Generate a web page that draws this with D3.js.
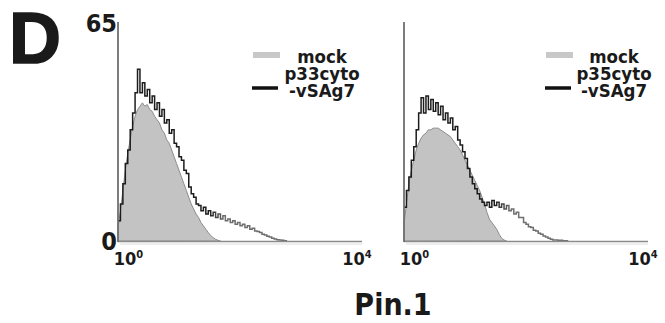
<!DOCTYPE html>
<html>
<head>
<meta charset="utf-8">
<script src="https://cdn.jsdelivr.net/npm/d3@7/dist/d3.min.js"></script>
<style>
  html, body { margin: 0; padding: 0; background: #fff; }
  svg { display: block; }
  text { font-family: "DejaVu Sans Condensed", "DejaVu Sans", sans-serif; font-weight: bold; fill: #1a1a1a; }
</style>
</head>
<body>
<svg id="chart" width="665" height="323"></svg>
<script>
// Flow cytometry histograms, Pin.1 staining, log channels 10^0..10^4.
// Each array holds event counts per channel bin, bins 0.04 decades wide.
const binDecades = 0.04;

const mockLeft = [4, 9, 15, 21, 26, 30, 34, 37, 39, 40, 41, 40, 40.5, 39, 38.5, 37, 36, 35, 33, 32,
  30, 29, 27, 25, 23, 21, 19, 17, 15, 13, 11, 9.5, 8, 7, 5.5, 4.5, 3.5, 2.5, 1.6, 1, 0.5, 0.2, 0];

const p33Left = [6, 11, 17, 23, 27, 33, 38, 44, 51, 44, 47, 43, 45, 41, 43, 39, 41, 37, 39, 35,
  36, 32, 33, 29, 28, 25, 24, 21, 20, 16, 14, 13, 11, 10.5, 9, 10, 8, 9, 7.5, 8.5,
  7, 8, 6.5, 7.5, 6, 6.5, 5.5, 6, 5, 5.5, 4.5, 5, 4, 4.5, 3.5, 3.8, 3, 2.8, 2.5, 2,
  1.8, 1.4, 1.2, 0.8, 0.6, 0.4, 0.3, 0.2, 0.1, 0];

const mockRight = [5, 11, 17, 21, 24, 27, 29, 30.5, 31.5, 32, 33, 33, 33.5, 33.5, 33.5, 33, 32.5, 32, 31.5, 31,
  30, 29, 28, 27, 25.5, 24, 22.5, 21, 19.5, 18, 16.5, 15, 13, 11, 8.5, 6.5, 5.5, 4.5, 3.5, 2,
  0.8, 0.3, 0];

const p35Right = [10, 15, 19, 24, 28, 33, 38, 42.5, 38, 43, 39, 42, 38.5, 41, 37.5, 40, 36, 38, 35, 36.5,
  33, 34, 30, 28.5, 26.5, 24.5, 21.5, 19, 17, 15.5, 14, 12.5, 11.5, 10.5, 11.5, 10, 12, 10.5, 11.5, 10,
  11, 9.5, 10.5, 9, 9.5, 8, 8.5, 7, 7, 5.5, 5, 4.2, 4, 3.2, 3, 2.3, 2, 1.5, 1.2, 0.8,
  0.5, 0.3, 0.3, 0.2, 0.2, 0.1, 0.1, 0];

const yMax = 65;
const yTicks = [0, 65];
const xTickExponents = [0, 4];

const panels = [
  { mock: mockLeft, sample: p33Left, names: ["mock", "p33cyto", "-vSAg7"], left: 118, swatchX: 253, textX: 322, yLabels: true },
  { mock: mockRight, sample: p35Right, names: ["mock", "p35cyto", "-vSAg7"], left: 404, swatchX: 546, textX: 614, yLabels: false }
];

const svg = d3.select("#chart");
const plotW = 244, plotTop = 22, plotBottom = 241;
const y = d3.scaleLinear().domain([0, yMax]).range([plotBottom, plotTop]);

// Panel letter
svg.append("text").attr("x", 9).attr("y", 63)
  .style("font-family", "'Liberation Sans', Arial, sans-serif")
  .style("font-size", "72px").style("font-weight", "bold")
  .attr("stroke", "#1a1a1a").attr("stroke-width", 1.6).text("D");

const defs = svg.append("defs");

panels.forEach((p, k) => {
  const x = d3.scaleLog().domain([1, 1e4]).range([p.left, p.left + plotW]);
  const chan = i => Math.pow(10, i * binDecades);
  const g = svg.append("g");

  // mock: filled histogram
  const area = d3.area().x((d, i) => x(chan(i))).y0(y(0)).y1(d => y(d));
  g.append("path").datum(p.mock).attr("d", area)
    .attr("fill", "#c3c3c3").attr("stroke", "#8d8d8d").attr("stroke-width", 1);

  // sample: open line, darker over the main peak, lighter over the tail
  const tailStart = x(chan(p.mock.length - 1));
  const grad = defs.append("linearGradient").attr("id", "lineGrad" + k)
    .attr("gradientUnits", "userSpaceOnUse")
    .attr("x1", tailStart - 12).attr("x2", tailStart + 4).attr("y1", 0).attr("y2", 0);
  grad.append("stop").attr("offset", 0).attr("stop-color", "#1c1c1c");
  grad.append("stop").attr("offset", 1).attr("stop-color", "#6e6e6e");

  const line = d3.line().x((d, i) => x(chan(i))).y(d => y(d)).curve(d3.curveStepAfter);
  g.append("path").datum(p.sample).attr("d", line)
    .attr("fill", "none").attr("stroke", `url(#lineGrad${k})`).attr("stroke-width", 1.5);

  // axes
  g.append("line").attr("x1", p.left).attr("x2", p.left + plotW).attr("y1", plotBottom + 0.5).attr("y2", plotBottom + 0.5)
    .attr("stroke", "#8a8a8a").attr("stroke-width", 1.3);
  g.append("line").attr("x1", p.left + 2).attr("x2", p.left + plotW).attr("y1", plotBottom + 3).attr("y2", plotBottom + 3)
    .attr("stroke", "#dcdcdc").attr("stroke-width", 1);
  g.append("line").attr("x1", p.left).attr("x2", p.left).attr("y1", y(yMax)).attr("y2", plotBottom + 1)
    .attr("stroke", "#6f6f6f").attr("stroke-width", 1.8);

  // x tick labels 10^n
  xTickExponents.forEach((e, j) => {
    const cx = j === 0 ? x(Math.pow(10, e)) + 10.5 : x(Math.pow(10, e)) - 5;
    const t = g.append("text").attr("x", cx).attr("y", 265).attr("text-anchor", "middle")
      .style("font-size", "18px");
    t.append("tspan").text("10");
    t.append("tspan").attr("dy", -7).style("font-size", "11px").text(String(e));
  });

  if (p.yLabels) {
    yTicks.forEach(v => {
      g.append("text").attr("x", p.left - 1).attr("y", v === 0 ? 250 : 32)
        .attr("text-anchor", "end").style("font-size", "25px").text(v);
    });
  }

  // legend
  g.append("rect").attr("x", p.swatchX).attr("y", 52).attr("width", 27).attr("height", 6)
    .attr("fill", "#c8c8c8");
  g.append("line").attr("x1", p.swatchX - 1).attr("x2", p.swatchX + 25).attr("y1", 88).attr("y2", 88)
    .attr("stroke", "#111").attr("stroke-width", 3.5);
  p.names.forEach((n, j) => {
    g.append("text").attr("x", p.textX).attr("y", 63 + j * 17).attr("text-anchor", "middle")
      .style("font-size", "18.5px").text(n);
  });
});

// x axis title
svg.append("text").attr("x", 393).attr("y", 315).attr("text-anchor", "middle")
  .style("font-size", "30px").text("Pin.1");
</script>
</body>
</html>
